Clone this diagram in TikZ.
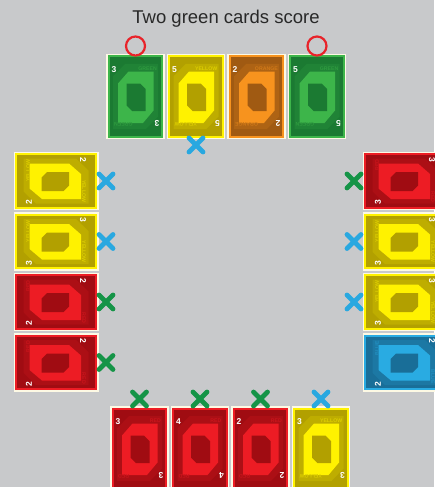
\documentclass[tikz,border=0pt]{standalone}
\usepackage{fontspec}
\setmainfont{Liberation Sans}
\usepackage{xcolor}
\usepackage{tikz}
\usetikzlibrary{positioning,shapes.misc}
\definecolor{bggray}{RGB}{200,201,203}
\definecolor{cream}{RGB}{253,249,228}
\definecolor{titlegray}{RGB}{40,40,40}
\definecolor{grnlt}{RGB}{61,181,74}
\definecolor{grndk}{RGB}{27,122,50}
\definecolor{yellt}{RGB}{255,242,0}
\definecolor{yeldk}{RGB}{178,160,0}
\definecolor{orglt}{RGB}{247,147,30}
\definecolor{orgdk}{RGB}{160,90,18}
\definecolor{redlt}{RGB}{237,28,36}
\definecolor{reddk}{RGB}{160,12,18}
\definecolor{blult}{RGB}{41,171,226}
\definecolor{bludk}{RGB}{25,110,152}
\definecolor{markblue}{RGB}{41,168,224}
\definecolor{markgreen}{RGB}{21,148,71}
\definecolor{markred}{RGB}{232,35,42}

% face of one card, drawn upright and turned with the node
\newcommand{\cardface}[5]{%
  \begin{scope}[shift={(#1.center)}, rotate=#2, transform shape]
    \fill[#3lt] (-27.75,-41) rectangle (27.75,41);
    \fill[#3dk] (-25.75,-39) rectangle (25.75,39);
    \fill[#3dk!84!#3lt] (-22.5,-20) -- (-10.5,-32.5) -- (22.5,-32.5) -- (22.5,20)
      -- (10.5,32.5) -- (-22.5,32.5) -- cycle;
    \fill[#3lt] (-17.5,-13) -- (-7,-25) -- (18,-25) -- (18,14) -- (7.5,26.5) -- (-17.5,26.5) -- cycle;
    \fill[#3dk] (-9,-13) -- (4.5,-13) -- (10,-7.5) -- (10,14.5) -- (-3.5,14.5)
      -- (-9,9) -- cycle;
    \node[cardnum] (#1n) at (-21.5,-27) {#4};
    \node[cardnum, rotate=180] (#1m) at (21.5,27) {#4};
    \node[cardword, text=#3lt!55!#3dk, anchor=east] (#1w) at (21.5,-27.8) {#5};
    \node[cardword, text=#3lt!55!#3dk, anchor=east, rotate=180] (#1v) at (-21.5,27.8) {#5};
  \end{scope}}

\begin{document}
\begin{tikzpicture}[
    x=1pt, y=-1pt,
    node distance=2pt,
    vcard/.style={fill=cream, minimum width=58.5pt, minimum height=85pt, inner sep=0pt, outer sep=0pt},
    hcard/.style={fill=cream, minimum width=85pt, minimum height=58.5pt, inner sep=0pt, outer sep=0pt},
    cardnum/.style={text=white, font=\fontsize{8.5}{8.5}\selectfont\bfseries, inner sep=0pt},
    cardword/.style={font=\fontsize{5.2}{5.2}\selectfont\bfseries, inner sep=0pt},
    ring/.style={circle, draw=markred, line width=2.2pt, minimum size=19pt, inner sep=0pt, outer sep=0pt},
    xmark/.style={cross out, line width=4.8pt, line cap=round, minimum size=14pt, inner sep=0pt, outer sep=0pt}
]
\useasboundingbox (0,0) rectangle (434,487);
\fill[bggray] (0,0) rectangle (434,487);

\node[anchor=base, text=titlegray, font=\fontsize{18.5}{22}\selectfont] (title) at (226,24) {Two green cards score};

% top row
\node[vcard] (t1) at (135.5,96.5) {};
\node[vcard, right=of t1] (t2) {};
\node[vcard, right=of t2] (t3) {};
\node[vcard, right=of t3] (t4) {};
\cardface{t1}{0}{grn}{3}{GREEN}
\cardface{t2}{0}{yel}{5}{YELLOW}
\cardface{t3}{0}{org}{2}{ORANGE}
\cardface{t4}{0}{grn}{5}{GREEN}

% left column
\node[hcard] (l1) at (56,181) {};
\node[hcard, below=of l1] (l2) {};
\node[hcard, below=of l2] (l3) {};
\node[hcard, below=of l3] (l4) {};
\cardface{l1}{-90}{yel}{2}{YELLOW}
\cardface{l2}{-90}{yel}{3}{YELLOW}
\cardface{l3}{-90}{red}{2}{RED}
\cardface{l4}{-90}{red}{2}{RED}

% right column
\node[hcard] (r1) at (405,181) {};
\node[hcard, below=of r1] (r2) {};
\node[hcard, below=of r2] (r3) {};
\node[hcard, below=of r3] (r4) {};
\cardface{r1}{-90}{red}{3}{RED}
\cardface{r2}{-90}{yel}{3}{YELLOW}
\cardface{r3}{-90}{yel}{3}{YELLOW}
\cardface{r4}{-90}{blu}{2}{BLUE}

% bottom row
\node[vcard] (b1) at (139.5,448.5) {};
\node[vcard, right=of b1] (b2) {};
\node[vcard, right=of b2] (b3) {};
\node[vcard, right=of b3] (b4) {};
\cardface{b1}{0}{red}{3}{RED}
\cardface{b2}{0}{red}{4}{RED}
\cardface{b3}{0}{red}{2}{RED}
\cardface{b4}{0}{yel}{3}{YELLOW}

% marks
\node[ring, above=-1.5pt of t1] (o1) {};
\node[ring, above=-1.5pt of t4] (o4) {};
\node[xmark, draw=markblue, below=-1pt of t2] (xt2) {};
\node[xmark, draw=markblue, right=0.5pt of l1] (xl1) {};
\node[xmark, draw=markblue, right=0.5pt of l2] (xl2) {};
\node[xmark, draw=markgreen, right=0.5pt of l3] (xl3) {};
\node[xmark, draw=markgreen, right=0.5pt of l4] (xl4) {};
\node[xmark, draw=markgreen, left=1.5pt of r1] (xr1) {};
\node[xmark, draw=markblue, left=1.5pt of r2] (xr2) {};
\node[xmark, draw=markblue, left=1.5pt of r3] (xr3) {};
\node[xmark, draw=markgreen, above=0pt of b1] (xb1) {};
\node[xmark, draw=markgreen, above=0pt of b2] (xb2) {};
\node[xmark, draw=markgreen, above=0pt of b3] (xb3) {};
\node[xmark, draw=markblue, above=0pt of b4] (xb4) {};
\end{tikzpicture}
\end{document}
